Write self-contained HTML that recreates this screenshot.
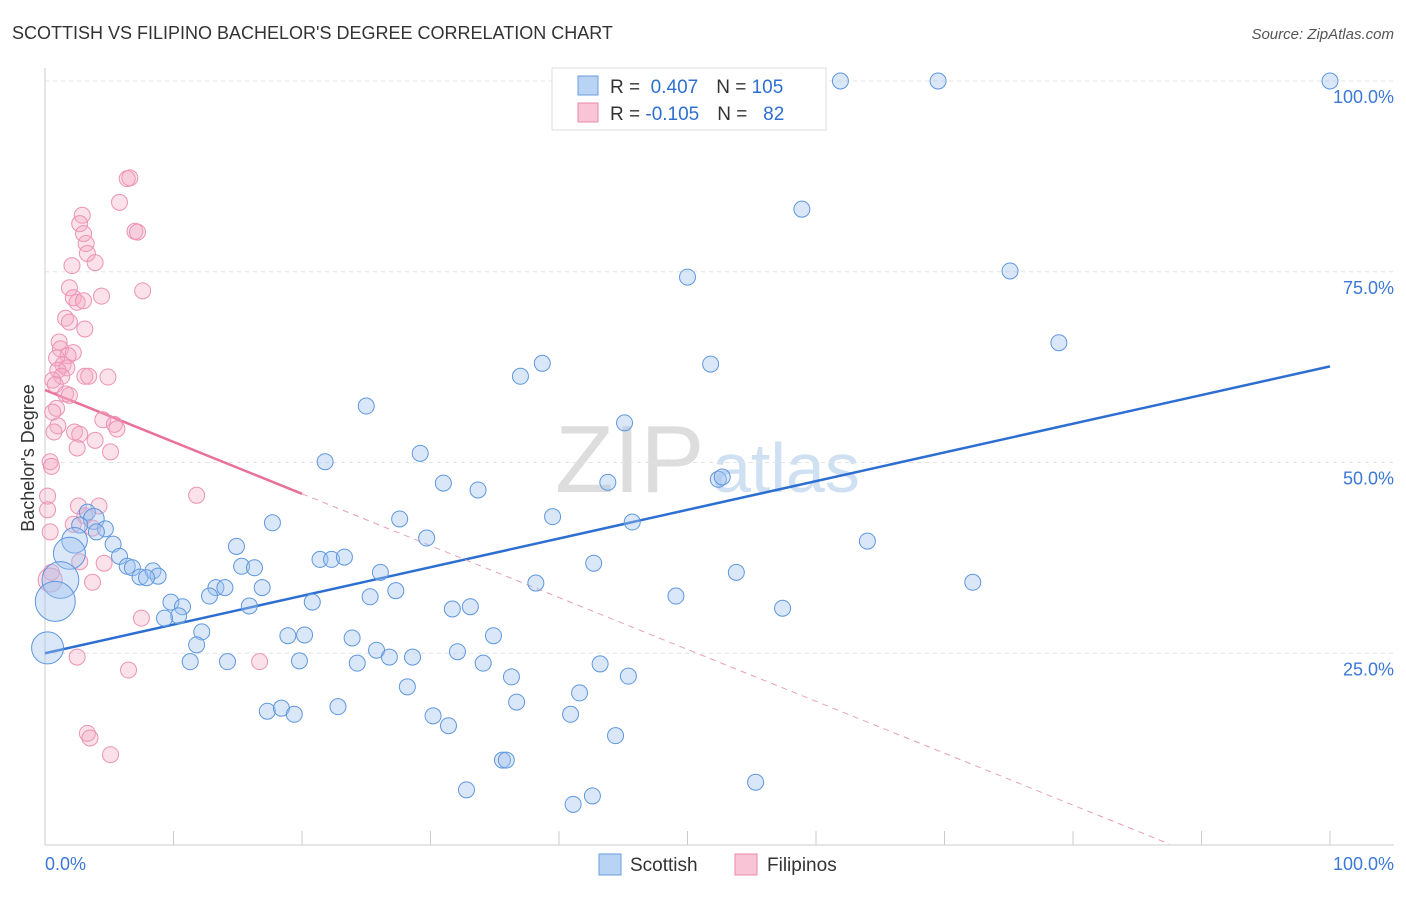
<!DOCTYPE html>
<html><head><meta charset="utf-8"><style>
body{margin:0;background:#fff;font-family:"Liberation Sans",sans-serif;}
svg text{font-family:"Liberation Sans",sans-serif;}
</style></head><body>
<svg id="chart" width="1406" height="892">
<text x="12" y="39" font-size="18" fill="#333">SCOTTISH VS FILIPINO BACHELOR'S DEGREE CORRELATION CHART</text>
<text x="1394" y="39" font-size="15" fill="#555" font-style="italic" text-anchor="end">Source: ZipAtlas.com</text>
<text x="555" y="492" font-size="96" fill="#ddd" font-family="Liberation Serif">ZIP</text>
<text x="712" y="492" font-size="70" fill="#cfe0f3">atlas</text>
<g id="grid"></g><g id="axes"></g><g id="trend"></g><g id="pts"></g>
<g>
<rect x="552" y="68" width="274" height="62" fill="#fff" stroke="#ddd"/>
<rect x="578" y="76" width="20" height="19" fill="#b9d3f5" stroke="#6a9ee0"/>
<rect x="578" y="103" width="20" height="19" fill="#f8c4d6" stroke="#e88aad"/>
<text x="610" y="93" font-size="19" fill="#333">R = <tspan fill="#2d6fd1">&#160;0.407</tspan><tspan dx="18">N = </tspan><tspan fill="#2d6fd1">105</tspan></text>
<text x="610" y="120" font-size="19" fill="#333">R = <tspan fill="#2d6fd1">-0.105</tspan><tspan dx="18">N = </tspan><tspan fill="#2d6fd1">&#160;&#160;82</tspan></text>
</g>
<g>
<rect x="599" y="854" width="22" height="21" fill="#b9d3f5" stroke="#6a9ee0"/>
<text x="630" y="871" font-size="19" fill="#333">Scottish</text>
<rect x="735" y="854" width="22" height="21" fill="#f8c4d6" stroke="#e88aad"/>
<text x="767" y="871" font-size="19" fill="#333">Filipinos</text>
</g>
<text x="45" y="870" font-size="18" fill="#3b78d8">0.0%</text>
<text x="1394" y="870" font-size="18" fill="#3b78d8" text-anchor="end">100.0%</text>
<text x="34" y="458" font-size="18" fill="#333" transform="rotate(-90 34 458)" text-anchor="middle">Bachelor's Degree</text>
</svg>
<script>
const yTicks=[25,50,75,100];
const yTickLabels=["25.0%","50.0%","75.0%","100.0%"];
const blueX=[61.9,69.5,100,58.9,50.0,75.1,78.9,51.8,38.7,37.0,25.0,45.1,29.2,21.8,31.0,33.7,43.8,52.4,52.7,39.5,45.7,27.6,17.7,29.7,64.0,14.9,21.4,22.3,23.3,42.7,53.8,26.1,27.3,25.3,38.2,72.2,49.1,57.4,31.7,33.1,20.8,15.9,16.9,15.3,16.3,13.3,14.0,12.8,9.8,10.7,10.4,9.3,12.2,11.8,11.3,14.2,18.9,20.2,19.8,23.9,25.8,24.3,26.8,28.6,32.1,34.9,34.1,36.3,43.2,45.4,41.6,36.7,28.2,22.8,17.3,18.4,19.4,30.2,31.4,40.9,44.4,35.6,35.9,32.8,42.6,41.1,55.3,3.3,3.8,2.7,4.7,4.0,2.3,5.3,1.9,5.8,6.4,6.8,8.4,8.8,7.4,7.9,1.2,0.8,0.2];
const blueY=[100,100,100,83.2,74.3,75.1,65.7,62.9,63.0,61.3,57.4,55.2,51.2,50.1,47.3,46.4,47.4,47.8,48.1,42.9,42.2,42.6,42.1,40.1,39.7,39.0,37.3,37.3,37.6,36.8,35.6,35.6,33.2,32.4,34.2,34.3,32.5,30.9,30.8,31.1,31.7,31.2,33.6,36.4,36.2,33.6,33.6,32.5,31.7,31.1,29.9,29.6,27.8,26.1,23.9,23.9,27.3,27.4,24.0,27.0,25.4,23.7,24.5,24.5,25.2,27.3,23.7,21.9,23.6,22.0,19.8,18.6,20.6,18.0,17.4,17.8,17.0,16.8,15.5,17.0,14.2,11.0,11.0,7.1,6.3,5.2,8.1,43.5,42.6,41.8,41.3,40.9,39.8,39.3,38.1,37.7,36.4,36.2,35.8,35.1,35.0,34.9,34.6,31.8,25.7];
const blueSize=[];blueX.forEach((_,i)=>blueSize.push(1));
blueSize[92]=1.6;blueSize[94]=2;blueSize[102]=2.3;blueSize[103]=2.5;blueSize[104]=2;blueSize[88]=1.3;
const pinkX=[6.4,6.6,5.8,2.9,2.7,7.0,7.2,3.0,3.2,3.3,3.9,2.1,7.6,1.9,4.4,2.2,2.5,3.0,1.6,1.9,3.1,1.1,1.2,2.2,1.8,0.9,1.4,1.7,1.0,1.3,3.1,3.4,4.9,0.6,0.8,1.6,1.9,0.9,0.6,4.5,5.4,5.6,1.0,0.7,2.3,2.7,3.9,2.5,5.1,0.4,0.5,11.8,0.2,0.2,4.2,2.6,3.1,2.2,3.7,0.4,2.7,4.6,0.5,3.7,7.5,2.5,16.7,6.5,3.3,3.5,5.1,0.4];
const pinkY=[87.2,87.3,84.1,82.4,81.3,80.3,80.2,80.0,78.7,77.4,76.2,75.8,72.5,72.9,71.8,71.6,71.0,71.2,68.9,68.4,67.5,65.8,64.9,64.4,64.0,63.7,62.8,62.4,62.1,61.3,61.3,61.3,61.2,60.8,60.2,59.0,58.8,57.1,56.6,55.6,55.0,54.4,54.8,54.0,54.0,53.7,52.9,51.9,51.4,50.1,49.5,45.7,45.6,43.8,44.3,44.3,43.0,41.9,41.4,40.9,37.0,36.8,35.6,34.3,29.6,24.5,23.9,22.8,14.5,13.9,11.7,34.6];
const blueTrend=[25.0,0.376];
const pinkTrend=[59.5,-0.68];
const X0=45,X1=1330,Y0=844,Y100=81;
const sx=v=>X0+(X1-X0)*v/100, sy=v=>Y0-(Y0-Y100)*v/100;
const NS="http://www.w3.org/2000/svg";
function mk(t,a,p){const e=document.createElementNS(NS,t);for(const k in a)e.setAttribute(k,a[k]);p.appendChild(e);return e;}
const grid=document.getElementById('grid'),axes=document.getElementById('axes'),trend=document.getElementById('trend'),pts=document.getElementById('pts');
yTicks.forEach((t,i)=>{
 const l=mk('line',{x1:X0,x2:1394,y1:sy(t),y2:sy(t),stroke:'#e3e3e3','stroke-dasharray':'4,4'},grid);
 
 
 const tx=mk('text',{x:1394,y:sy(t)+22,'font-size':18,fill:'#3b78d8','text-anchor':'end'},grid);tx.textContent=yTickLabels[i];
 
 
});
const xa=mk('line',{x1:X0,x2:1394,y1:845,y2:845,stroke:'#ccc'},axes);


const ya=mk('line',{x1:X0,x2:X0,y1:68,y2:845,stroke:'#ccc'},axes);


for(let i=1;i<=10;i++){const t=mk('line',{x1:sx(i*10),x2:sx(i*10),y1:831,y2:845,stroke:'#ccc'},axes);
 
 }
const bt=mk('line',{x1:sx(0),y1:sy(blueTrend[0]),x2:sx(100),y2:sy(blueTrend[0]+100*blueTrend[1]),stroke:'#2d6fd1','stroke-width':2.5},trend);


const pt=mk('line',{x1:sx(0),y1:sy(pinkTrend[0]),x2:sx(20),y2:sy(pinkTrend[0]+20*pinkTrend[1]),stroke:'#e8709a','stroke-width':2.5},trend);


const xe=-pinkTrend[0]/pinkTrend[1];
const pd=mk('line',{x1:sx(20),y1:sy(pinkTrend[0]+20*pinkTrend[1]),x2:sx(xe),y2:sy(0),stroke:'#e8a0b8','stroke-width':1,'stroke-dasharray':'6,5'},trend);


pinkX.forEach((x,i)=>{const c=mk('circle',{cx:sx(x),cy:sy(pinkY[i]),r:i==71?12:8,fill:'rgba(244,170,196,0.35)',stroke:'#ec93b4','stroke-width':1},pts);
 
 });
blueX.forEach((x,i)=>{const c=mk('circle',{cx:sx(x),cy:sy(blueY[i]),r:8*blueSize[i],fill:'rgba(160,196,240,0.4)',stroke:'#5f97de','stroke-width':1},pts);
 
 });
</script>
</body></html>
